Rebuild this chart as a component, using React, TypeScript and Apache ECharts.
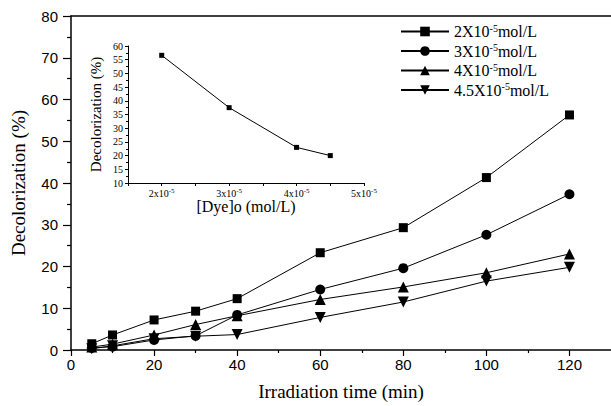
import React, { useEffect, useRef } from "react";
import * as echarts from "echarts";

// Main chart data
const times = [5, 10, 20, 30, 40, 60, 80, 100, 120];
const conc2 = [1.5, 3.6, 7.2, 9.3, 12.3, 23.3, 29.3, 41.3, 56.3];
const conc3 = [0.5, 0.8, 2.4, 3.4, 8.4, 14.5, 19.6, 27.6, 37.3];
const conc4 = [0.7, 1.4, 3.6, 6.1, 8.2, 12.1, 15.1, 18.5, 23.0];
const conc45 = [0.3, 1.0, 2.7, 3.3, 3.7, 7.8, 11.5, 16.5, 19.8];
const seriesNames = ["2X10-5mol/L", "3X10-5mol/L", "4X10-5mol/L", "4.5X10-5mol/L"];
const mainXMajor = [0, 20, 40, 60, 80, 100, 120];
const mainXMinor = [10, 30, 50, 70, 90, 110];

// Inset data
const insetConc = [2, 3, 4, 4.5];
const insetDecol = [56.6, 37.5, 23.0, 20.0];

const FONT_SANS = "'Liberation Sans', Arial, sans-serif";
const FONT_SERIF = "'Liberation Serif', 'Times New Roman', serif";

export default function App() {
  const ref = useRef<HTMLDivElement>(null);
  useEffect(() => {
    if (!ref.current) return;
    const chart = echarts.init(ref.current, null, { renderer: "svg" });
    const pair = (ys: number[]) => times.map((t, i) => [t, ys[i]]);
    const lineBase = {
      type: "line",
      xAxisIndex: 0,
      yAxisIndex: 0,
      lineStyle: { color: "#000", width: 1 },
      itemStyle: { color: "#000" },
      emphasis: { disabled: true },
    };
    chart.setOption({
      animation: false,
      backgroundColor: "#fff",
      grid: [
        { left: 71, top: 16, width: 549, bottom: 52 },
        { left: 128, top: 46, width: 236, height: 137 },
      ],
      legend: {
        orient: "vertical",
        left: 395,
        top: 18,
        itemWidth: 48,
        itemHeight: 12,
        itemGap: 3,
        data: seriesNames,
        formatter: (name: string) => name.replace("-5", "{sup|-5}"),
        textStyle: {
          fontFamily: FONT_SERIF,
          fontSize: 16,
          color: "#000",
          rich: {
            sup: { fontSize: 10, fontFamily: FONT_SERIF, padding: [0, 0, 7, 0], color: "#000" },
          },
        },
      },
      xAxis: [
        {
          type: "value",
          gridIndex: 0,
          min: 0,
          max: 130,
          interval: 10,
          position: "bottom",
          name: "Irradiation time (min)",
          nameLocation: "middle",
          nameGap: 32,
          nameTextStyle: { fontFamily: FONT_SERIF, fontSize: 19, color: "#000" },
          axisLine: { lineStyle: { color: "#000", width: 1.5 } },
          axisTick: { customValues: mainXMajor, length: 6, lineStyle: { color: "#000", width: 1.2 } },
          axisLabel: {
            customValues: mainXMajor,
            margin: 7,
            fontFamily: FONT_SANS,
            fontSize: 15,
            color: "#000",
          },
          splitLine: { show: false },
        },
        {
          type: "value",
          gridIndex: 0,
          min: 0,
          max: 130,
          interval: 10,
          position: "bottom",
          axisLine: { show: false },
          axisTick: { customValues: mainXMinor, length: 3, lineStyle: { color: "#000", width: 1.2 } },
          axisLabel: { show: false },
          splitLine: { show: false },
        },
        {
          type: "value",
          gridIndex: 0,
          min: 0,
          max: 130,
          position: "top",
          axisLine: { show: true, lineStyle: { color: "#000", width: 1.5 } },
          axisTick: { show: false },
          axisLabel: { show: false },
          splitLine: { show: false },
        },
        {
          type: "value",
          gridIndex: 1,
          min: 1.5,
          max: 5,
          interval: 0.5,
          name: "[Dye]o (mol/L)",
          nameLocation: "middle",
          nameGap: 14,
          nameTextStyle: { fontFamily: FONT_SERIF, fontSize: 16, color: "#000" },
          axisLine: { lineStyle: { color: "#000", width: 1 } },
          axisTick: { length: 3, lineStyle: { color: "#000" } },
          axisLabel: {
            margin: 4,
            fontFamily: FONT_SERIF,
            fontSize: 10,
            color: "#000",
            formatter: (v: number) => (Number.isInteger(v) ? v + "x10{sup|-5}" : ""),
            rich: { sup: { fontSize: 7, fontFamily: FONT_SERIF, padding: [0, 0, 5, 0], color: "#000" } },
          },
          splitLine: { show: false },
        },
      ],
      yAxis: [
        {
          type: "value",
          gridIndex: 0,
          min: 0,
          max: 80,
          interval: 10,
          name: "Decolorization (%)",
          nameLocation: "middle",
          nameGap: 43,
          nameTextStyle: { fontFamily: FONT_SERIF, fontSize: 19, color: "#000" },
          axisLine: { show: true, lineStyle: { color: "#000", width: 1.5 } },
          axisTick: { length: 8, lineStyle: { color: "#000", width: 1.2 } },
          minorTick: { show: true, splitNumber: 2, length: 4, lineStyle: { color: "#000", width: 1.2 } },
          axisLabel: { margin: 13, fontFamily: FONT_SANS, fontSize: 15, color: "#000" },
          splitLine: { show: false },
        },
        {
          type: "value",
          gridIndex: 1,
          min: 10,
          max: 60,
          interval: 5,
          name: "Decolorization (%)",
          nameLocation: "middle",
          nameGap: 25,
          nameTextStyle: { fontFamily: FONT_SERIF, fontSize: 15, color: "#000" },
          axisLine: { show: true, lineStyle: { color: "#000", width: 1 } },
          axisTick: { length: 3, lineStyle: { color: "#000" } },
          minorTick: { show: true, splitNumber: 2, length: 2, lineStyle: { color: "#000" } },
          axisLabel: { margin: 5, fontFamily: FONT_SERIF, fontSize: 10, color: "#000" },
          splitLine: { show: false },
        },
      ],
      series: [
        { ...lineBase, name: seriesNames[0], data: pair(conc2), symbol: "rect", symbolSize: 9 },
        { ...lineBase, name: seriesNames[1], data: pair(conc3), symbol: "circle", symbolSize: 10 },
        { ...lineBase, name: seriesNames[2], data: pair(conc4), symbol: "triangle", symbolSize: 11 },
        {
          ...lineBase,
          name: seriesNames[3],
          data: pair(conc45),
          symbol: "triangle",
          symbolRotate: 180,
          symbolSize: 11,
        },
        {
          type: "line",
          name: "inset",
          xAxisIndex: 3,
          yAxisIndex: 1,
          data: insetConc.map((c, i) => [c, insetDecol[i]]),
          symbol: "rect",
          symbolSize: 5,
          lineStyle: { color: "#000", width: 1 },
          itemStyle: { color: "#000" },
          emphasis: { disabled: true },
        },
      ],
    });
    return () => chart.dispose();
  }, []);
  return (
    <div
      ref={ref}
      style={{ position: "absolute", left: 0, top: 0, width: 611, height: 406, background: "#fff" }}
    />
  );
}
